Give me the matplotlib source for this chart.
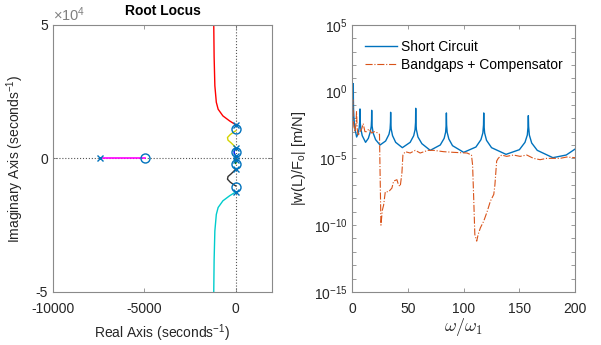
import numpy as np
import matplotlib
matplotlib.use("Agg")
import matplotlib.pyplot as plt

plt.rcParams['font.family'] = ['Liberation Sans', 'DejaVu Sans']
plt.rcParams['mathtext.fontset'] = 'custom'
plt.rcParams['mathtext.rm'] = 'Liberation Sans'
plt.rcParams['mathtext.it'] = 'Liberation Sans:italic'
plt.rcParams['mathtext.bf'] = 'Liberation Sans:bold'

"""
DATA
"""
# root locus branches (real, imag) in 1/s
red_re = [0, -50, -330, -700, -960, -1060, -1140, -1180, -1200]
red_im = [12600, 12800, 14000, 15900, 18400, 21000, 27200, 38000, 50000]
cyan_re = red_re
cyan_im = [-v for v in red_im]
yellow_re = [0, -120, -300, -450, -420, -250, -100, 0]
yellow_im = [10300, 9800, 8900, 7800, 6800, 5800, 4800, 4000]
black_re = yellow_re
black_im = [-v for v in yellow_im]
blue_re = [0, -60, -90, -40, 0]
blue_im = [3700, 3000, 2300, 1400, 800]
green_re = [0, -50, -30, 0]
green_im = [700, -200, -1200, -1900]
magenta_re = [-7400, -4950]
magenta_im = [0, 0]
pole_re = [-7400, 0, 0, 0, 0, 0, 0]
pole_im = [0, 12600, -12600, 4000, -4000, 800, -800]
zero_re = [-4950, 0, 0, 0, 0]
zero_im = [0, 10900, -10900, 2400, -2000]

# frequency response, omega/omega_1 vs log10 |w(L)/F_o|
sc_w = [0.2, 0.5, 0.8, 0.95, 1.0, 1.05, 1.2, 1.6, 2.5, 4,
        5.5, 6.3, 6.8, 6.95, 7.0, 7.05, 7.2, 7.8, 9, 12,
        14.5, 16.3, 17.1, 17.4, 17.5, 17.6, 17.9, 18.8, 21, 25,
        30, 33, 34.0, 34.35, 34.5, 34.65, 35.0, 36.2, 39, 45,
        52, 55.2, 56.4, 56.85, 57, 57.15, 57.6, 59, 62.5, 70,
        79, 82.5, 83.8, 84.3, 84.5, 84.7, 85.2, 86.7, 90, 100,
        111, 115.5, 117.2, 117.8, 118, 118.2, 118.8, 120.5, 125, 138,
        150, 155, 157.1, 157.75, 158, 158.25, 158.9, 161, 166, 180,
        192, 200]
sc_log = [-2.6, -2.0, -1.2, -0.4, 0.6, -0.4, -1.3, -2.0, -2.8, -3.4,
          -3.1, -2.7, -2.2, -1.8, -1.3, -1.8, -2.3, -2.8, -3.3, -3.8,
          -3.5, -3.0, -2.6, -2.1, -1.4, -2.1, -2.6, -3.1, -3.6, -4.0,
          -3.7, -3.2, -2.8, -2.3, -1.55, -2.3, -2.8, -3.3, -3.8, -4.2,
          -3.8, -3.3, -2.85, -2.3, -1.25, -2.3, -2.85, -3.4, -3.9, -4.4,
          -4.0, -3.5, -3.05, -2.5, -1.6, -2.5, -3.05, -3.55, -4.05, -4.55,
          -4.15, -3.6, -3.1, -2.5, -1.6, -2.5, -3.1, -3.65, -4.2, -4.7,
          -4.35, -3.8, -3.25, -2.6, -1.8, -2.6, -3.25, -3.85, -4.4, -4.95,
          -4.75, -4.3]

bg_w = [0.2, 0.5, 0.9, 1.5, 2.5, 3.3, 3.9, 4.5, 5.4, 7, 8.5, 9.9, 11.4, 13,
        15, 16, 17.4, 20, 23, 24.5, 25.0, 25.8, 27, 28.2, 29.7, 32.7, 35.6,
        37.2, 40.1, 41.6, 43.1, 44.6, 45.5, 47.6, 52, 56.6, 61, 68, 73, 82,
        91, 103, 107, 108, 109, 110, 111.7, 113, 115, 118, 121, 124, 127, 128,
        129.6, 131, 134, 138.6, 144.6, 150.6, 156.6, 162.6, 168.6, 174.5,
        186.5, 192.5, 200]
bg_log = [-2.5, -0.6, -2.0, -2.6, -3.0, -2.5, -1.5, -2.8, -3.3, -3.0, -2.8, -2.4,
          -3.0, -3.0, -2.8, -2.9, -3.1, -3.0, -3.1, -3.2, -6.0, -10.0, -8.9,
          -8.5, -7.5, -7.5, -7.23, -6.7, -6.6, -7.0, -7.1, -6.1, -4.75, -4.5,
          -4.6, -4.4, -4.6, -4.4, -4.4, -4.5, -4.55, -4.6, -4.75, -5.5, -8.0,
          -10.7, -11.2, -10.7, -10.2, -9.7, -9.0, -8.2, -7.7, -7.0, -5.2, -5.0,
          -4.75, -4.85, -4.75, -4.85, -4.75, -5.0, -5.1, -5.0, -5.0, -4.9, -4.95]

txt = '#262626'
edge = '#8a8a8a'

fig = plt.figure(figsize=(6.01, 3.45), dpi=100)
ax1 = fig.add_axes([0.088, 0.154, 0.365, 0.774])
ax2 = fig.add_axes([0.586, 0.154, 0.371, 0.774])

for ax in (ax1, ax2):
    for s in ax.spines.values():
        s.set_color(edge)
        s.set_linewidth(0.8)
    ax.tick_params(direction='in', top=True, right=True, colors=txt,
                   labelsize=10, length=3, width=0.6, color=edge)
ax1.tick_params(axis='x', pad=7)
ax2.tick_params(axis='x', pad=7)

# root locus
ax1.axhline(0, color='#555555', ls=':', lw=0.8)
ax1.axvline(0, color='#555555', ls=':', lw=0.8)
ax1.plot(red_re, red_im, color='red', lw=1)
ax1.plot(cyan_re, cyan_im, color='#00cccc', lw=1)
ax1.plot(yellow_re, yellow_im, color='#d4d400', lw=1)
ax1.plot(black_re, black_im, color='#333333', lw=1)
ax1.plot(blue_re, blue_im, color='blue', lw=1)
ax1.plot(green_re, green_im, color='green', lw=1)
ax1.plot(magenta_re, magenta_im, color='magenta', lw=1.2)
ax1.plot(pole_re, pole_im, 'x', color='#0072BD', ms=4, mew=1)
ax1.plot(zero_re, zero_im, 'o', color='#0072BD', ms=6.5, mfc='none', mew=1)
ax1.set_xlim(-10000, 2000)
ax1.set_ylim(-5e4, 5e4)
ax1.set_xticks([-10000, -5000, 0])
ax1.set_xticklabels(['-10000', '-5000', '0'])
ax1.set_yticks([-5e4, 0, 5e4])
ax1.set_yticklabels(['-5', '0', '5'])
ax1.set_title('Root Locus', fontsize=10, fontweight='bold', color='black', pad=7)
ax1.text(0.0, 1.003, r'$\times10^{4}$', transform=ax1.transAxes, ha='left',
         va='bottom', color='#808080', fontsize=10.5)
ax1.set_xlabel('Real Axis (seconds$^{-1}$)', fontsize=10, color=txt, labelpad=5)
ax1.set_ylabel('Imaginary Axis (seconds$^{-1}$)', fontsize=10, color=txt, labelpad=7)

# frequency response
ax2.semilogy(sc_w, 10.0 ** np.array(sc_log), color='#0072BD', lw=1,
             label='Short Circuit')
ax2.semilogy(bg_w, 10.0 ** np.array(bg_log), color='#D95319', lw=0.8,
             ls='-.', label='Bandgaps + Compensator')
ax2.set_xlim(0, 200)
ax2.set_ylim(1e-15, 1e5)
ax2.set_xticks([0, 50, 100, 150, 200])
ax2.set_yticks([10.0 ** k for k in range(-15, 6)])
ax2.set_yticklabels([(r'10$^{%d}$' % k if k % 5 == 0 else '') for k in range(-15, 6)])
ax2.minorticks_off()
ax2.set_xlabel(r'$\omega/\omega_1$', fontsize=13, color=txt, math_fontfamily='cm',
               labelpad=0)
ax2.set_ylabel(r'|w(L)/F$_\mathrm{o}$| [m/N]', fontsize=10.5, color=txt, labelpad=4)
ax2.legend(loc='upper left', frameon=False, fontsize=10, handlelength=2.3,
           handletextpad=0.3, labelspacing=0.3, borderaxespad=0.5,
           bbox_to_anchor=(0.0, 0.99))

fig.savefig('out.png', dpi=100)
